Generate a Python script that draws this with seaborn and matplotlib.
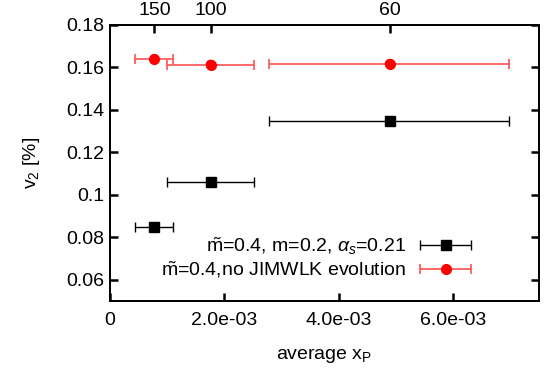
import numpy as np
import pandas as pd
import matplotlib
matplotlib.use("Agg")
import matplotlib.pyplot as plt
import seaborn as sns
from matplotlib.ticker import FuncFormatter, FixedLocator
from matplotlib.legend_handler import HandlerErrorbar
from matplotlib.container import ErrorbarContainer

# ---- data ----
x_avg = [0.783e-3, 1.763e-3, 4.889e-3]
x_lo = [0.443e-3, 1.00e-3, 2.79e-3]
x_hi = [1.111e-3, 2.52e-3, 6.98e-3]
v2_jimwlk = [0.0849, 0.1062, 0.1345]
v2_nojimwlk = [0.1639, 0.1612, 0.1616]
x_ticks = [0, 2e-3, 4e-3, 6e-3]
y_ticks = [0.06, 0.08, 0.10, 0.12, 0.14, 0.16, 0.18]
top_labels = ["150", "100", "60"]
label_jimwlk = r"$\tilde{\mathrm{m}}$=0.4, m=0.2, $\alpha_s$=0.21"
label_nojimwlk = r"$\tilde{\mathrm{m}}$=0.4,no JIMWLK evolution"

FS = 14
TW = 1.8
TL = 6

sns.set_style("ticks", {
    'axes.edgecolor': 'black', 'xtick.color': 'black', 'ytick.color': 'black',
    'text.color': 'black', 'axes.labelcolor': 'black',
    'xtick.direction': 'in', 'ytick.direction': 'in',
    'xtick.bottom': True, 'ytick.left': True,
})
plt.rcParams['font.family'] = ['Liberation Sans', 'DejaVu Sans']
plt.rcParams['mathtext.fontset'] = 'custom'
plt.rcParams['mathtext.rm'] = 'Liberation Sans'
plt.rcParams['mathtext.it'] = 'Liberation Sans:italic'
plt.rcParams['mathtext.sf'] = 'Liberation Sans'
plt.rcParams['axes.axisbelow'] = False
plt.rcParams['xtick.labelsize'] = FS
plt.rcParams['ytick.labelsize'] = FS
plt.rcParams['xtick.major.size'] = TL
plt.rcParams['ytick.major.size'] = TL
plt.rcParams['xtick.major.width'] = TW
plt.rcParams['ytick.major.width'] = TW

fig = plt.figure(figsize=(5.49, 3.70), dpi=100)
ax = fig.add_axes([0.1996, 0.1865, 0.7827, 0.747])

xerr = np.array([np.array(x_avg) - np.array(x_lo), np.array(x_hi) - np.array(x_avg)])

e1 = ax.errorbar(x_avg, v2_jimwlk, xerr=xerr, fmt='s', color='black', ms=7.2,
                 elinewidth=1.0, capsize=3.5, capthick=1.0, label=label_jimwlk)
e2 = ax.errorbar(x_avg, v2_nojimwlk, xerr=xerr, fmt='o', color='red', ecolor='#ff5050',
                 ms=7, elinewidth=1.2, capsize=3.5, capthick=1.2, label=label_nojimwlk)

df = pd.DataFrame({"x": x_avg * 2, "v2": v2_jimwlk + v2_nojimwlk,
                   "set": ["a"] * 3 + ["b"] * 3})
sns.scatterplot(data=df, x="x", y="v2", hue="set", style="set",
                markers={"a": "s", "b": "o"}, palette={"a": "black", "b": "red"},
                s=50, edgecolor='none', legend=False, ax=ax, zorder=5)

ax.set_xlim(0, 7.5e-3)
ax.set_ylim(0.05, 0.18)
ax.xaxis.set_major_locator(FixedLocator(x_ticks))
ax.yaxis.set_major_locator(FixedLocator(y_ticks))

def xfmt(v, p):
    if abs(v) < 1e-12:
        return "0"
    return "%.1e" % v

def yfmt(v, p):
    return ("%.2f" % v).rstrip('0')

ax.xaxis.set_major_formatter(FuncFormatter(xfmt))
ax.yaxis.set_major_formatter(FuncFormatter(yfmt))
ax.tick_params(axis='x', which='major', direction='in', length=TL, width=TW,
               color='black', bottom=True, top=False, pad=8)
ax.tick_params(axis='y', which='major', direction='in', length=TL, width=TW,
               color='black', left=True, right=True, pad=4)
ax.set_axisbelow(False)

ax2 = ax.twiny()
ax2.set_xlim(ax.get_xlim())
ax2.xaxis.set_major_locator(FixedLocator(x_avg))
ax2.set_xticklabels(top_labels)
ax2.tick_params(axis='x', direction='in', labelsize=FS, length=TL, width=TW,
                color='black', pad=4, top=True, bottom=False)
ax2.tick_params(axis='y', left=False, right=False, labelleft=False, labelright=False)

for a in (ax, ax2):
    for sp in a.spines.values():
        sp.set_linewidth(1.3)
        sp.set_color('black')

ax.set_xlabel(r"average x$_\mathrm{P}$", fontsize=FS, labelpad=12)
ax.set_ylabel(r"v$_2$ [%]", fontsize=FS, labelpad=17)

leg = ax.legend(handles=[e1, e2], loc='lower right', bbox_to_anchor=(0.843, 0.075),
                frameon=False, markerfirst=False, fontsize=FS, handlelength=2.7,
                handletextpad=0.7, labelspacing=0.15, borderpad=0, borderaxespad=0,
                handler_map={ErrorbarContainer: HandlerErrorbar(xerr_size=1.3)})

fig.savefig("out.png", dpi=100)
